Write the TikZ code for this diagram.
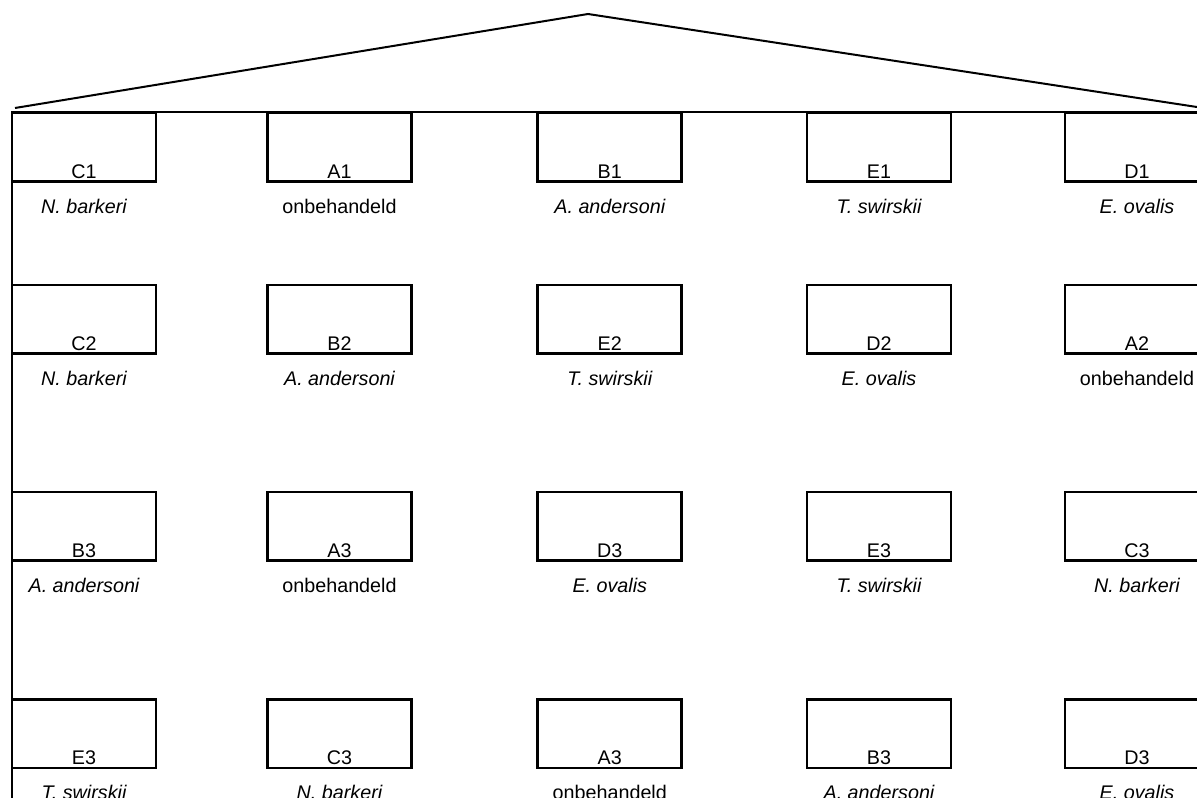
\documentclass[tikz,border=0pt]{standalone}
\usepackage{fontspec}
\setmainfont{Liberation Sans}
\begin{document}
\begin{tikzpicture}[x=0.75pt,y=-0.75pt,
  plot/.style={draw,line width=2pt,minimum width=108pt,minimum height=51.5pt,inner sep=0pt},
  code/.style={anchor=base,inner sep=0pt,font=\fontsize{14.8pt}{18pt}\selectfont},
  species/.style={anchor=base,inner sep=0pt,font=\fontsize{14.8pt}{18pt}\selectfont\itshape},
  wall/.style={line width=2pt},
  roof/.style={line width=1.5pt,line join=miter}]
\useasboundingbox (0,0) rectangle (1197,798);
\clip (0,0) rectangle (1197,798);

% roof and outer walls
\coordinate (eaveL) at (15,108);
\coordinate (ridge) at (588,14);
\coordinate (eaveR) at (1210,109);
\draw[roof] (eaveL) -- (ridge) -- (eaveR);
\coordinate (topL) at (12,112);
\coordinate (topR) at (1215,112);
\coordinate (baseL) at (12,805);
\draw[wall] (topR) -- (topL) -- (baseL);

% plots: row / column / code / species (i = italic)
\foreach \r/\cy in {1/147,2/319.2,3/526.3,4/733.5}{
  \foreach \c/\cx in {1/84,2/339.5,3/609.8,4/879,5/1137}{
    \node[plot] (p\r\c) at (\cx,\cy) {};
  }
}
\foreach \r/\c/\code/\name/\it in {
  1/1/C1/N. barkeri/1, 1/2/A1/onbehandeld/0, 1/3/B1/A. andersoni/1, 1/4/E1/T. swirskii/1, 1/5/D1/E. ovalis/1,
  2/1/C2/N. barkeri/1, 2/2/B2/A. andersoni/1, 2/3/E2/T. swirskii/1, 2/4/D2/E. ovalis/1, 2/5/A2/onbehandeld/0,
  3/1/B3/A. andersoni/1, 3/2/A3/onbehandeld/0, 3/3/D3/E. ovalis/1, 3/4/E3/T. swirskii/1, 3/5/C3/N. barkeri/1,
  4/1/E3/T. swirskii/1, 4/2/C3/N. barkeri/1, 4/3/A3/onbehandeld/0, 4/4/B3/A. andersoni/1, 4/5/D3/E. ovalis/1}{
  \node[code] (c\r\c) at ([yshift=3.3pt]p\r\c.south) {\code};
  \ifnum\it=1
    \node[species] (s\r\c) at ([yshift=-23pt]p\r\c.south) {\name};
  \else
    \node[code] (s\r\c) at ([yshift=-23pt]p\r\c.south) {\name};
  \fi
}
\end{tikzpicture}
\end{document}
